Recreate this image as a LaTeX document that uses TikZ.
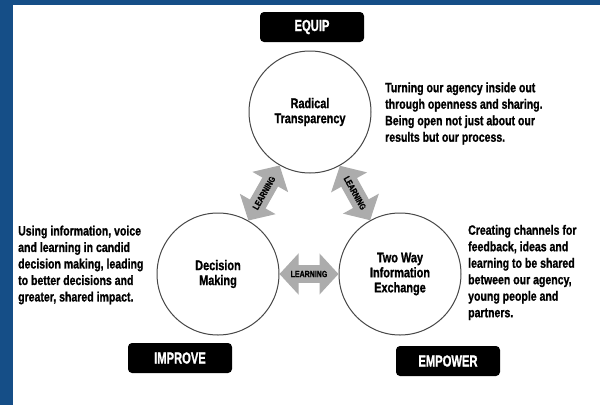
\documentclass[tikz,border=0pt]{standalone}
\usepackage{fontspec}
\usetikzlibrary{arrows.meta}
\newfontfamily\condA[FakeStretch=0.78, BoldFeatures={FakeBold=1}]{Liberation Sans}
\newfontfamily\condB[FakeStretch=0.70, BoldFeatures={FakeBold=1}]{Liberation Sans}
\definecolor{frameblue}{RGB}{21,78,135}
\definecolor{arrowgray}{RGB}{172,172,172}
\definecolor{ringgray}{RGB}{70,70,70}
\tikzset{
  circ/.style={circle, draw=ringgray, line width=1pt, minimum size=122pt, inner sep=0pt, align=center,
    font={\condA\bfseries\fontsize{14}{15}\selectfont}},
  tag/.style={rectangle, rounded corners=4pt, fill=black, text=white, minimum width=104pt, minimum height=30pt, inner sep=0pt,
    font={\condB\bfseries\fontsize{16}{18}\selectfont}},
  para/.style={anchor=west, align=left, inner sep=0pt,
    font={\condA\bfseries\fontsize{13.5}{16.5}\selectfont}},
  learn/.style={draw=arrowgray, line width=18pt,
    {Triangle[length=19pt,width=40pt]}-{Triangle[length=19pt,width=40pt]}},
  learnlbl/.style={midway, sloped, inner sep=0pt, font={\condA\bfseries\fontsize{9}{10}\selectfont}}
}
\begin{document}
\begin{tikzpicture}[x=1pt,y=-1pt]
\useasboundingbox (0,0) rectangle (600,405);
\fill[white] (0,0) rectangle (600,405);
\fill[frameblue] (0,0) rectangle (13,405);
\fill[frameblue] (0,0) rectangle (600,5);

\node[circ] (rt) at (310,112) {Radical\\Transparency};
\node[circ] (dm) at (218,274) {Decision\\Making};
\node[circ] (tw) at (400,274) {Two Way\\Information\\Exchange};

\node[tag] (equip) at (312,27) {EQUIP};
\node[tag] (improve) at (180,358) {IMPROVE};
\node[tag] (empower) at (448,361) {EMPOWER};

\draw[learn] (dm) -- node[learnlbl] {LEARNING} (rt);
\draw[learn] (rt) -- node[learnlbl] {LEARNING} (tw);
\draw[learn] (dm) -- node[learnlbl] {LEARNING} (tw);

\node[para] (ptop) at (385,113.5) {Turning our agency inside out\\through openness and sharing.\\Being open not just about our\\results but our process.};
\node[para] (pleft) at (18,265) {Using information, voice\\and learning in candid\\decision making, leading\\to better decisions and\\greater, shared impact.};
\node[para] (pright) at (468,272.5) {Creating channels for\\feedback, ideas and\\learning to be shared\\between our agency,\\young people and\\partners.};
\end{tikzpicture}
\end{document}
